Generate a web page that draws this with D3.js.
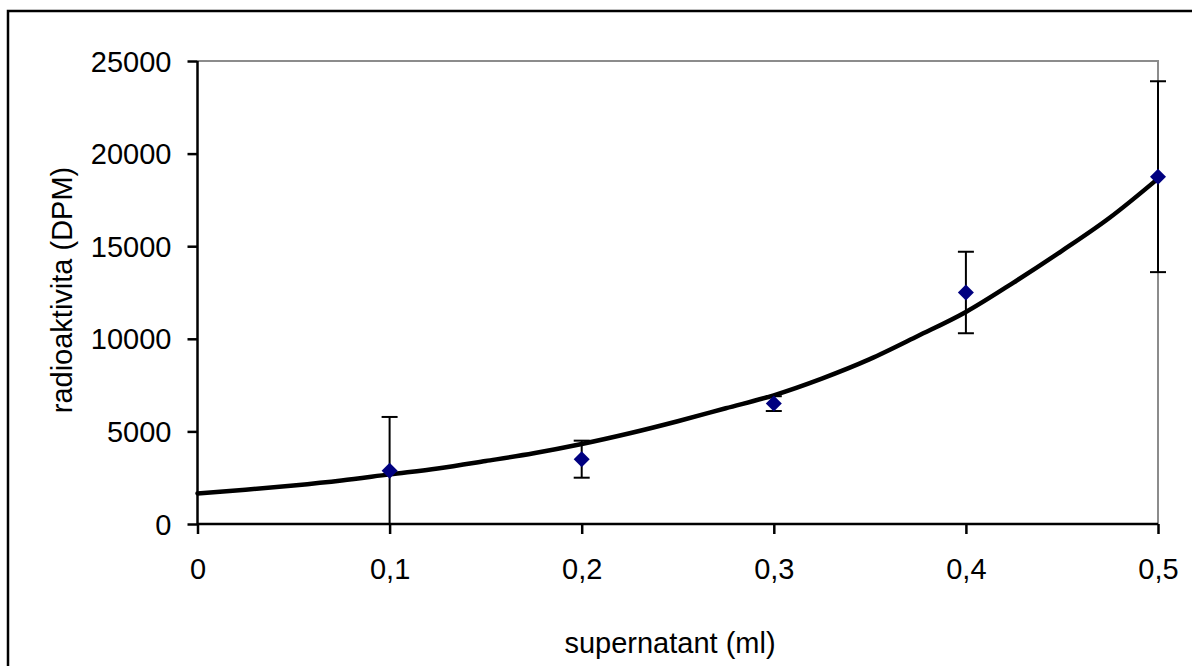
<!DOCTYPE html>
<html>
<head>
<meta charset="utf-8">
<script src="https://cdn.jsdelivr.net/npm/d3@7"></script>
<style>
  body { margin: 0; background: #fff; }
  svg text { font-family: Arial, "Liberation Sans", sans-serif; fill: #000; }
</style>
</head>
<body>
<svg id="chart" width="1192" height="666"></svg>
<script>
// measured points (supernatant ml -> DPM) with error
const pointX = [0.1, 0.2, 0.3, 0.4, 0.5];
const pointY = [2880, 3500, 6500, 12500, 18750];
const pointErr = [2900, 1000, 400, 2200, 5150];

// trend line
const trendX = [0, 0.025, 0.05, 0.075, 0.1, 0.125, 0.15, 0.175, 0.2, 0.225, 0.25,
  0.275, 0.3, 0.325, 0.35, 0.375, 0.4, 0.425, 0.45, 0.475, 0.5];
const trendY = [1650, 1850, 2080, 2350, 2680, 3000, 3400, 3820, 4320, 4900, 5550,
  6250, 6950, 7850, 8900, 10150, 11450, 13050, 14750, 16550, 18650];

const xTicks = [0, 0.1, 0.2, 0.3, 0.4, 0.5];
const yTicks = [0, 5000, 10000, 15000, 20000, 25000];

const margin = { top: 61, right: 34, bottom: 142, left: 197.5 };
const width = 1192, height = 666;

const svg = d3.select("#chart");

// outer chart frame (runs off the right/bottom edge like the original)
svg.append("rect")
  .attr("x", 8).attr("y", 11)
  .attr("width", 1200).attr("height", 700)
  .attr("fill", "none").attr("stroke", "#000").attr("stroke-width", 2.5);

const x = d3.scaleLinear().domain([0, 0.5])
  .range([margin.left, width - margin.right]);
const y = d3.scaleLinear().domain([0, 25000])
  .range([height - margin.bottom, margin.top]);

// plot area border (top / right grey)
svg.append("path")
  .attr("d", `M${x(0)},${y(25000)}H${x(0.5)}V${y(0)}`)
  .attr("fill", "none").attr("stroke", "#8c8c8c").attr("stroke-width", 2);

svg.append("clipPath").attr("id", "plotclip")
  .append("rect")
  .attr("x", x(0)).attr("y", y(25000))
  .attr("width", x(0.5) - x(0) + 10).attr("height", y(0) - y(25000));

const fmt = (d) => String(d).replace(".", ",");

// y axis
const yAxis = svg.append("g")
  .attr("transform", `translate(${x(0)},0)`)
  .call(d3.axisLeft(y).tickValues(yTicks).tickSize(10).tickPadding(16).tickFormat(d3.format("d")));
yAxis.selectAll("text").attr("font-size", "29px").attr("dy", "0.35em");

// x axis
const xAxis = svg.append("g")
  .attr("transform", `translate(0,${y(0)})`)
  .call(d3.axisBottom(x).tickValues(xTicks).tickSize(10).tickFormat(fmt));
xAxis.selectAll("text").attr("font-size", "29px").attr("y", 55).attr("dy", 0);

svg.selectAll(".domain").attr("stroke", "#000").attr("stroke-width", 2.5);
svg.selectAll(".tick line").attr("stroke", "#000").attr("stroke-width", 2.5);
yAxis.select(".domain").attr("d", `M0,${y(25000)}V${y(0)}`);
xAxis.select(".domain").attr("d", `M${x(0)},0H${x(0.5)}`);

// axis titles
svg.append("text")
  .attr("transform", "translate(72,290) rotate(-90)")
  .attr("text-anchor", "middle")
  .attr("font-size", "29px")
  .text("radioaktivita (DPM)");

svg.append("text")
  .attr("x", 670).attr("y", 653)
  .attr("text-anchor", "middle")
  .attr("font-size", "29px")
  .text("supernatant (ml)");

// trend line
const trend = trendX.map((d, i) => ({ x: d, y: trendY[i] }));
svg.append("path")
  .datum(trend)
  .attr("fill", "none")
  .attr("stroke", "#000")
  .attr("stroke-width", 4.5)
  .attr("stroke-linejoin", "round")
  .attr("stroke-linecap", "round")
  .attr("d", d3.line().curve(d3.curveMonotoneX).x((d) => x(d.x)).y((d) => y(d.y)));

// error bars
const pts = pointX.map((d, i) => ({ x: d, y: pointY[i], e: pointErr[i] }));
const eb = svg.append("g").attr("clip-path", "url(#plotclip)")
  .selectAll("g").data(pts).join("g");
eb.append("line")
  .attr("x1", (d) => x(d.x)).attr("x2", (d) => x(d.x))
  .attr("y1", (d) => y(d.y + d.e)).attr("y2", (d) => y(d.y - d.e))
  .attr("stroke", "#000").attr("stroke-width", 2);
eb.append("line")
  .attr("x1", (d) => x(d.x) - 8).attr("x2", (d) => x(d.x) + 8)
  .attr("y1", (d) => y(d.y + d.e)).attr("y2", (d) => y(d.y + d.e))
  .attr("stroke", "#000").attr("stroke-width", 2);
eb.append("line")
  .attr("x1", (d) => x(d.x) - 8).attr("x2", (d) => x(d.x) + 8)
  .attr("y1", (d) => y(d.y - d.e)).attr("y2", (d) => y(d.y - d.e))
  .attr("stroke", "#000").attr("stroke-width", 2);

// diamond markers
svg.append("g")
  .selectAll("path").data(pts).join("path")
  .attr("transform", (d) => `translate(${x(d.x)},${y(d.y)})`)
  .attr("d", "M0,-8L8,0L0,8L-8,0Z")
  .attr("fill", "#000080");
</script>
</body>
</html>
